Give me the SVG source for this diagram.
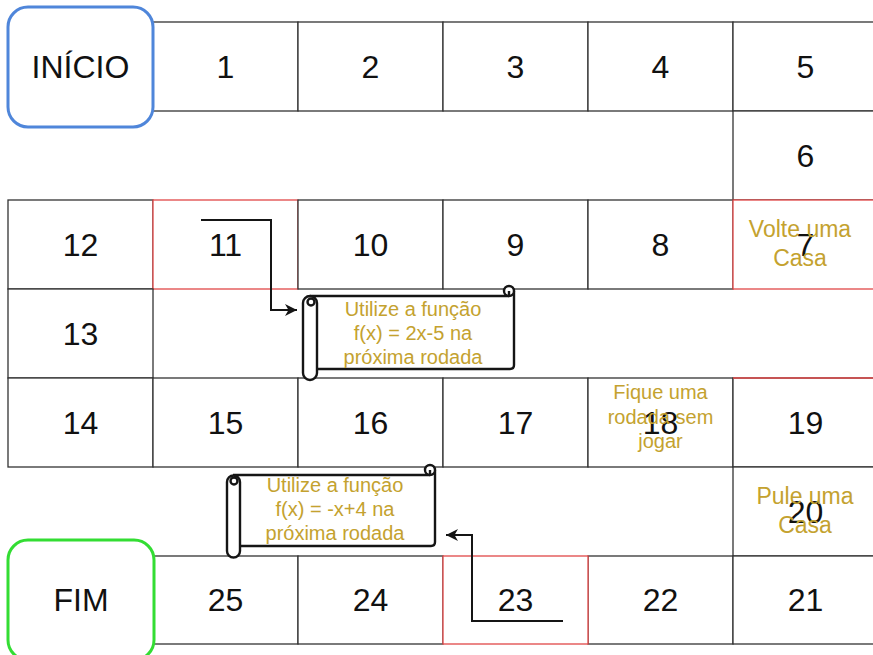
<svg xmlns="http://www.w3.org/2000/svg" width="873" height="655" viewBox="0 0 873 655">
<defs>
<style>
.cell{fill:#fff;stroke:#333;stroke-width:1.3}
.red{fill:#fff;stroke:#E04848;stroke-width:1.3}
.num{font-family:"Liberation Sans",Arial,sans-serif;font-size:32px;fill:#111;text-anchor:middle}
.gold{font-family:"Liberation Sans",Arial,sans-serif;fill:#C4A22F;text-anchor:middle}
.scroll{fill:#fff;stroke:#151515;stroke-width:2.4;stroke-linejoin:round}
.conn{fill:none;stroke:#151515;stroke-width:2}
</style>
<marker id="arr" markerUnits="userSpaceOnUse" markerWidth="14" markerHeight="12" refX="12" refY="6" orient="auto">
<path d="M0,0 L12,6 L0,12 L3.5,6 Z" fill="#151515"/>
</marker>
</defs>
<rect width="873" height="655" fill="#fff"/>

<g id="c1"><rect class="cell" x="153" y="22" width="145" height="89"/><text class="num" x="225.5" y="78">1</text></g>
<g id="c2"><rect class="cell" x="298" y="22" width="145" height="89"/><text class="num" x="370.5" y="78">2</text></g>
<g id="c3"><rect class="cell" x="443" y="22" width="145" height="89"/><text class="num" x="515.5" y="78">3</text></g>
<g id="c4"><rect class="cell" x="588" y="22" width="145" height="89"/><text class="num" x="660.5" y="78">4</text></g>
<g id="c5"><rect class="cell" x="733" y="22" width="145" height="89"/><text class="num" x="805.5" y="78">5</text></g>
<g id="c6"><rect class="cell" x="733" y="111" width="145" height="89"/><text class="num" x="805.5" y="167">6</text></g>

<g id="c12"><rect class="cell" x="8" y="200" width="145" height="89"/><text class="num" x="80.5" y="256">12</text></g>
<g id="c11"><rect class="red" x="153" y="200" width="145" height="89"/><text class="num" x="225.5" y="256">11</text></g>
<g id="c10"><rect class="cell" x="298" y="200" width="145" height="89"/><text class="num" x="370.5" y="256">10</text></g>
<g id="c9"><rect class="cell" x="443" y="200" width="145" height="89"/><text class="num" x="515.5" y="256">9</text></g>
<g id="c8"><rect class="cell" x="588" y="200" width="145" height="89"/><text class="num" x="660.5" y="256">8</text></g>
<g id="c7"><rect class="red" x="733" y="200" width="145" height="89"/><text class="num" x="805.5" y="256">7</text>
<text class="gold" font-size="23"><tspan x="800" y="237">Volte uma</tspan><tspan x="800" y="266">Casa</tspan></text></g>

<g id="c13"><rect class="cell" x="8" y="289" width="145" height="89"/><text class="num" x="80.5" y="345">13</text></g>

<g id="c14"><rect class="cell" x="8" y="378" width="145" height="89"/><text class="num" x="80.5" y="434">14</text></g>
<g id="c15"><rect class="cell" x="153" y="378" width="145" height="89"/><text class="num" x="225.5" y="434">15</text></g>
<g id="c16"><rect class="cell" x="298" y="378" width="145" height="89"/><text class="num" x="370.5" y="434">16</text></g>
<g id="c17"><rect class="cell" x="443" y="378" width="145" height="89"/><text class="num" x="515.5" y="434">17</text></g>
<g id="c18"><rect class="cell" x="588" y="378" width="145" height="89"/><text class="num" x="660.5" y="434">18</text>
<text class="gold" font-size="20"><tspan x="660.5" y="399">Fique uma</tspan><tspan x="660.5" y="424">rodada sem</tspan><tspan x="660.5" y="448">jogar</tspan></text></g>
<g id="c19"><rect class="cell" x="733" y="378" width="145" height="89"/><text class="num" x="805.5" y="434">19</text></g>
<line x1="733" y1="378" x2="878" y2="378" stroke="#E04848" stroke-width="1.3"/>

<g id="c20"><rect class="cell" x="733" y="467" width="145" height="89"/><text class="num" x="805.5" y="523">20</text>
<text class="gold" font-size="23"><tspan x="805" y="504">Pule uma</tspan><tspan x="805" y="533">Casa</tspan></text></g>

<g id="c25"><rect class="cell" x="153" y="556" width="145" height="88"/><text class="num" x="225.5" y="611">25</text></g>
<g id="c24"><rect class="cell" x="298" y="556" width="145" height="88"/><text class="num" x="370.5" y="611">24</text></g>
<g id="c22"><rect class="cell" x="588" y="556" width="145" height="88"/><text class="num" x="660.5" y="611">22</text></g>
<g id="c21"><rect class="cell" x="733" y="556" width="145" height="88"/><text class="num" x="805.5" y="611">21</text></g>
<g id="c23"><rect class="red" x="443" y="556" width="145" height="88"/><text class="num" x="515.5" y="611">23</text></g>

<g id="inicio"><rect x="8" y="7" width="145" height="120" rx="20" fill="#fff" stroke="#4F86DA" stroke-width="3"/><text class="num" x="80.5" y="78">INÍCIO</text></g>
<g id="fim"><rect x="8" y="540" width="146" height="120" rx="20" fill="#fff" stroke="#33DD33" stroke-width="3"/><text class="num" x="81" y="611">FIM</text></g>

<g id="scroll1">
<rect x="310" y="296" width="204" height="73" fill="#fff"/>
<path class="scroll" fill="none" d="M310,296 H509 M514,291 V365 Q514,369 510,369 H317"/>
<circle class="scroll" cx="509" cy="291" r="5"/>
<path class="scroll" fill="none" d="M509,291 V296"/>
<path class="scroll" d="M303,303 V373 A7,7 0 0 0 317,373 V303 A7,7 0 0 0 303,303 Z"/>
<circle class="scroll" cx="311" cy="302" r="3.5"/>
<text class="gold" font-size="20"><tspan x="413" y="316">Utilize a função</tspan><tspan x="413" y="340">f(x) = 2x-5 na</tspan><tspan x="413" y="364">próxima rodada</tspan></text>
</g>

<g id="scroll2">
<rect x="233" y="475" width="202" height="71" fill="#fff"/>
<path class="scroll" fill="none" d="M233,475 H430 M435,470 V542 Q435,546 431,546 H240"/>
<circle class="scroll" cx="430" cy="470" r="5"/>
<path class="scroll" fill="none" d="M430,470 V475"/>
<path class="scroll" d="M227,482 V551 A6.5,6.5 0 0 0 240,551 V482 A6.5,6.5 0 0 0 227,482 Z"/>
<circle class="scroll" cx="234" cy="481" r="3.5"/>
<text class="gold" font-size="20"><tspan x="335" y="492">Utilize a função</tspan><tspan x="335" y="516">f(x) = -x+4 na</tspan><tspan x="335" y="540">próxima rodada</tspan></text>
</g>

<g id="connectors">
<path class="conn" d="M201,220 H271 V310 H297" marker-end="url(#arr)"/>
<path class="conn" d="M563,621 H472 V535 H446" marker-end="url(#arr)"/>
</g>
</svg>
